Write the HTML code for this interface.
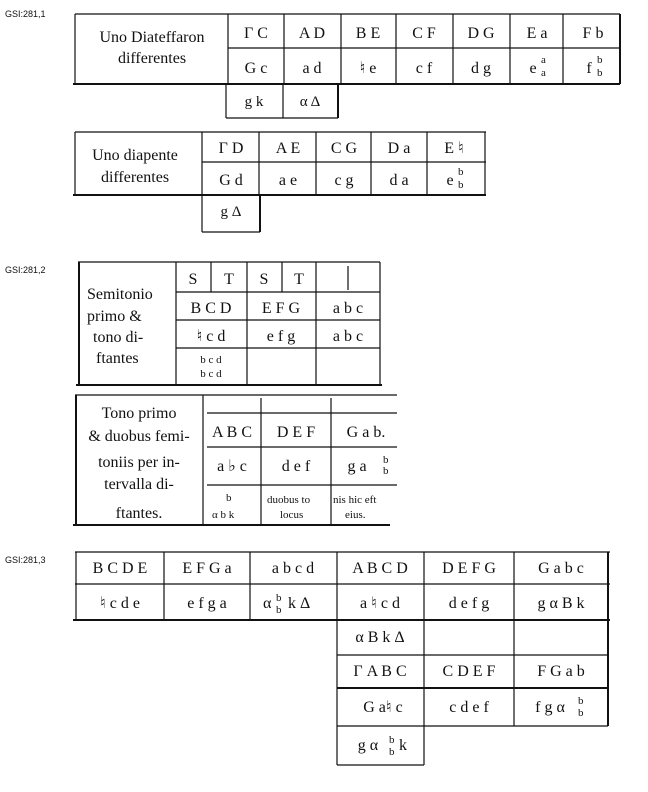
<!DOCTYPE html>
<html><head><meta charset="utf-8"><style>
body{margin:0;background:#fff}
svg{display:block}
text{font-family:"Liberation Serif",serif;fill:#111}
.s{font-family:"Liberation Sans",sans-serif;font-size:9px}
.t{font-size:16px}
.m{font-size:15px}
.sm{font-size:11px}
line{stroke:#111;stroke-width:1.2}
.k{stroke-width:2}
</style></head><body>
<svg width="648" height="792" viewBox="0 0 648 792">
<text class="s" x="5" y="17">GSI:281,1</text>
<text class="s" x="5" y="273">GSI:281,2</text>
<text class="s" x="5" y="563">GSI:281,3</text>

<!-- Table 1 -->
<line x1="75" y1="14" x2="620" y2="14"/>
<line x1="228" y1="48" x2="620" y2="48"/>
<line class="k" x1="73" y1="84" x2="620" y2="84"/>
<line x1="75" y1="14" x2="75" y2="84"/>
<g>
<line x1="228" y1="14" x2="228" y2="84"/><line x1="284" y1="14" x2="284" y2="84"/>
<line x1="341" y1="14" x2="341" y2="84"/><line x1="396" y1="14" x2="396" y2="84"/>
<line x1="453" y1="14" x2="453" y2="84"/><line x1="510" y1="14" x2="510" y2="84"/>
<line x1="563" y1="14" x2="563" y2="84"/><line class="k" x1="620" y1="14" x2="620" y2="84"/>
</g>
<text class="t" x="152" y="42" text-anchor="middle">Uno Diateffaron</text>
<text class="t" x="152" y="63" text-anchor="middle">differentes</text>
<g class="t" text-anchor="middle">
<text x="256" y="38">Γ C</text><text x="312" y="38">A D</text><text x="368" y="38">B E</text>
<text x="424" y="38">C F</text><text x="481" y="38">D G</text><text x="537" y="38">E a</text><text x="593" y="38">F b</text>
<text x="256" y="73">G c</text><text x="312" y="73">a d</text><text x="368" y="73">♮ e</text>
<text x="424" y="73">c f</text><text x="481" y="73">d g</text><text x="533" y="73">e</text><text x="589" y="73">f</text>
</g>
<g class="sm"><text x="541" y="63">a</text><text x="541" y="76">a</text><text x="597" y="63">b</text><text x="597" y="76">b</text></g>
<line x1="226" y1="84" x2="226" y2="118"/><line x1="283" y1="84" x2="283" y2="118"/>
<line class="k" x1="338" y1="84" x2="338" y2="118"/><line x1="226" y1="118" x2="338" y2="118"/>
<text class="m" x="254" y="106" text-anchor="middle">g k</text>
<text class="m" x="310" y="106" text-anchor="middle">α Δ</text>

<!-- Table 2 -->
<line x1="75" y1="132" x2="486" y2="132"/>
<line x1="202" y1="162" x2="486" y2="162"/>
<line class="k" x1="73" y1="195" x2="486" y2="195"/>
<line x1="75" y1="132" x2="75" y2="195"/>
<line x1="202" y1="132" x2="202" y2="232"/><line x1="259" y1="132" x2="259" y2="195"/>
<line x1="316" y1="132" x2="316" y2="195"/><line x1="371" y1="132" x2="371" y2="195"/>
<line x1="427" y1="132" x2="427" y2="195"/><line x1="485" y1="132" x2="485" y2="195"/>
<line class="k" x1="260" y1="195" x2="260" y2="232"/><line x1="202" y1="232" x2="260" y2="232"/>
<text class="t" x="135" y="160" text-anchor="middle">Uno diapente</text>
<text class="t" x="135" y="182" text-anchor="middle">differentes</text>
<g class="t" text-anchor="middle">
<text x="231" y="153">Γ D</text><text x="288" y="153">A E</text><text x="344" y="153">C G</text>
<text x="399" y="153">D a</text><text x="454" y="153">E ♮</text>
<text x="231" y="185">G d</text><text x="288" y="185">a e</text><text x="344" y="185">c g</text>
<text x="399" y="185">d a</text><text x="450" y="185">e</text>
</g>
<g class="sm"><text x="458" y="175">b</text><text x="458" y="188">b</text></g>
<text class="m" x="231" y="216" text-anchor="middle">g Δ</text>

<!-- Table 3 -->
<line x1="78" y1="262" x2="380" y2="262"/>
<line x1="176" y1="292" x2="380" y2="292"/>
<line x1="176" y1="320" x2="380" y2="320"/>
<line x1="176" y1="348" x2="380" y2="348"/>
<line class="k" x1="76" y1="385" x2="382" y2="385"/>
<line class="k" x1="79" y1="262" x2="79" y2="385"/>
<line x1="176" y1="262" x2="176" y2="385"/>
<line x1="211" y1="262" x2="211" y2="292"/><line x1="247" y1="262" x2="247" y2="385"/>
<line x1="282" y1="262" x2="282" y2="292"/><line x1="316" y1="262" x2="316" y2="385"/>
<line x1="348" y1="266" x2="348" y2="290"/><line x1="380" y1="262" x2="380" y2="385"/>
<g class="t">
<text x="87" y="299">Semitonio</text><text x="87" y="321">primo &amp;</text>
<text x="93" y="342">tono di-</text><text x="96" y="363">ftantes</text>
</g>
<g class="t" text-anchor="middle">
<text x="193" y="284">S</text><text x="229" y="284">T</text><text x="264" y="284">S</text><text x="299" y="284">T</text>
<text x="211" y="313">B C D</text><text x="281" y="313">E F G</text><text x="348" y="313">a b c</text>
<text x="211" y="341">♮ c d</text><text x="281" y="341">e f g</text><text x="348" y="341">a b c</text>
</g>
<g class="sm" text-anchor="middle"><text x="211" y="363">b c d</text><text x="211" y="377">b c d</text></g>

<!-- Table 4 -->
<line x1="75" y1="395" x2="397" y2="395"/>
<line class="k" x1="73" y1="525" x2="390" y2="525"/>
<line class="k" x1="76" y1="395" x2="76" y2="525"/>
<line x1="203" y1="395" x2="203" y2="525"/><line x1="261" y1="398" x2="261" y2="525"/>
<line x1="331" y1="398" x2="331" y2="525"/>
<line x1="207" y1="413" x2="397" y2="413"/><line x1="207" y1="447" x2="397" y2="447"/>
<line x1="207" y1="485" x2="397" y2="485"/>
<g class="t" text-anchor="middle">
<text x="139" y="418">Tono primo</text><text x="139" y="441">&amp; duobus femi-</text>
<text x="139" y="467">toniis per in-</text><text x="139" y="489">tervalla di-</text>
<text x="139" y="518">ftantes.</text>
<text x="232" y="437">A B C</text><text x="296" y="437">D E F</text><text x="366" y="437">G a b.</text>
<text x="232" y="471">a ♭ c</text><text x="296" y="471">d e f</text><text x="357" y="471">g a</text>
</g>
<g class="sm"><text x="383" y="463">b</text><text x="383" y="474">b</text>
<text x="226" y="501">b</text><text x="212" y="518">α b k</text>
<text x="267" y="503">duobus to</text><text x="280" y="518">locus</text>
<text x="333" y="503">nis hic eft</text><text x="345" y="518">eius.</text></g>

<!-- Table 5 -->
<line x1="75" y1="552" x2="610" y2="552"/>
<line x1="75" y1="584" x2="610" y2="584"/>
<line class="k" x1="73" y1="620" x2="610" y2="620"/>
<line x1="76" y1="552" x2="76" y2="620"/>
<line x1="164" y1="552" x2="164" y2="620"/><line x1="250" y1="552" x2="250" y2="620"/>
<line x1="337" y1="552" x2="337" y2="765"/><line x1="424" y1="552" x2="424" y2="765"/>
<line x1="514" y1="552" x2="514" y2="726"/><line class="k" x1="608" y1="552" x2="608" y2="726"/>
<line x1="337" y1="655" x2="608" y2="655"/><line class="k" x1="337" y1="688" x2="608" y2="688"/>
<line x1="337" y1="726" x2="608" y2="726"/><line x1="337" y1="765" x2="424" y2="765"/>
<g class="t" text-anchor="middle">
<text x="120" y="573">B C D E</text><text x="207" y="573">E F G a</text><text x="293" y="573">a b c d</text>
<text x="380" y="573">A B C D</text><text x="469" y="573">D E F G</text><text x="561" y="573">G a b c</text>
<text x="120" y="608">♮ c d e</text><text x="207" y="608">e f g a</text>
<text x="380" y="608">a ♮ c d</text><text x="469" y="608">d e f g</text><text x="561" y="608">g α B k</text>
<text x="380" y="642">α B k Δ</text>
<text x="380" y="676">Γ A B C</text><text x="469" y="676">C D E F</text><text x="561" y="676">F G a b</text>
<text x="383" y="712">G a♮ c</text><text x="469" y="712">c d e f</text><text x="550" y="712">f g α</text>
<text x="368" y="750">g α</text><text x="403" y="750">k</text>
</g>
<g class="t"><text x="263" y="608">α</text><text x="288" y="608">k Δ</text></g>
<g class="sm"><text x="276" y="601">b</text><text x="276" y="613">b</text>
<text x="578" y="704">b</text><text x="578" y="716">b</text>
<text x="389" y="743">b</text><text x="389" y="755">b</text></g>
</svg>
</body></html>
